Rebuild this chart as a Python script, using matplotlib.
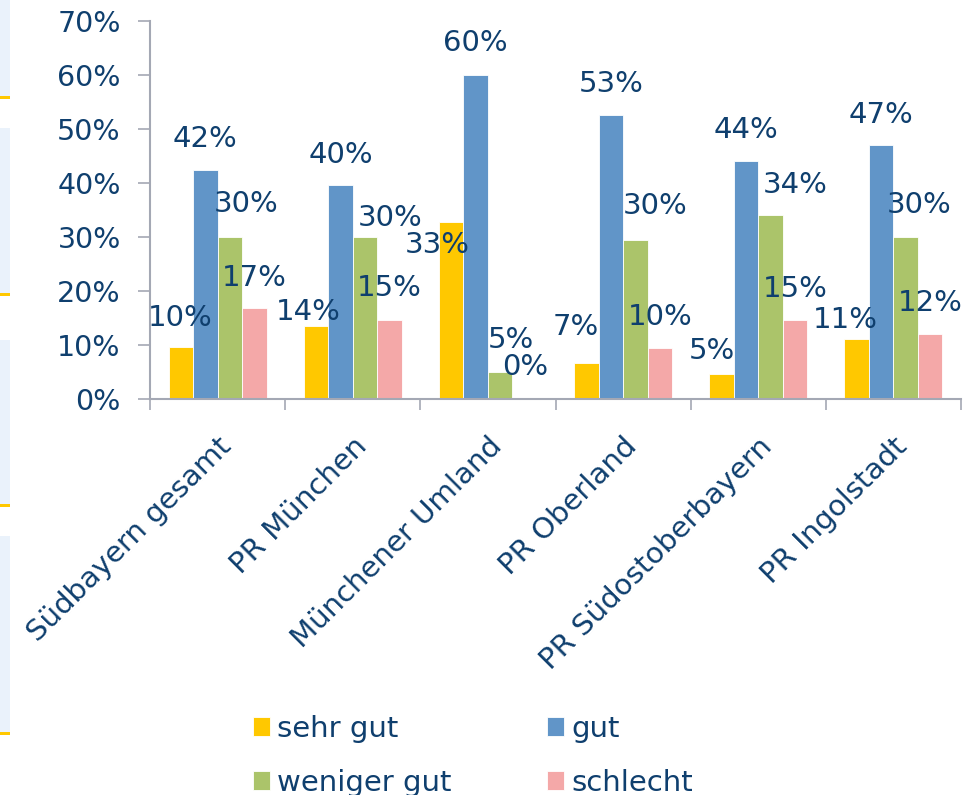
"""Zufriedenheit nach Planungsregion, gruppiertes Balkendiagramm."""

import numpy as np
import matplotlib
matplotlib.use("Agg")
from matplotlib import pyplot as plt
from matplotlib.patches import Rectangle

# data
regions = ["Südbayern gesamt", "PR München", "Münchener Umland",
           "PR Oberland", "PR Südostoberbayern", "PR Ingolstadt"]
series = ["sehr gut", "gut", "weniger gut", "schlecht"]
sehr_gut = [9.6, 13.5, 32.8, 6.6, 4.6, 11.1]
gut = [42.4, 39.6, 60.0, 52.6, 44.0, 47.0]
weniger_gut = [30.0, 30.0, 5.0, 29.5, 34.0, 30.0]
schlecht = [16.9, 14.6, 0.0, 9.5, 14.6, 12.0]
y_ticks = [0, 10, 20, 30, 40, 50, 60, 70]

colors = ["#FFC800", "#6195C8", "#ABC46A", "#F4A8A8"]
text_color = "#0F3F6E"
spine_color = "#A4A8B4"

# label offsets in pixels (dx, dy) relative to the top centre of each bar
label_offsets = [
    [(-1, 29), (0, 31), (16, 33), (0, 30)],
    [(-8, 14), (0, 30), (25, 19), (0, 32)],
    [(-14, -23), (0, 32), (11, 32), (0, 32)],
    [(-11, 36), (0, 31), (20, 34), (0, 31)],
    [(-10, 23), (0, 31), (25, 30), (0, 31)],
    [(-11, 19), (0, 30), (13, 32), (0, 31)],
]

plt.rcParams["font.family"] = ["DejaVu Sans"]

fig = plt.figure(figsize=(9.76, 7.95), dpi=100)
ax = fig.add_axes([150 / 976, 1 - 399 / 795, 811 / 976, 378 / 795])

x = np.arange(len(regions))
width = 0.1815
values = [sehr_gut, gut, weniger_gut, schlecht]
bars = []
for i, (name, vals) in enumerate(zip(series, values)):
    b = ax.bar(x + (i - 1.5) * width, vals, width, color=colors[i], label=name,
               edgecolor="white", linewidth=0.6, zorder=2)
    bars.append(b)

# percentage labels over the bars
for i, b in enumerate(bars):
    for j, rect in enumerate(b):
        dx, dy = label_offsets[j][i]
        cx = rect.get_x() + rect.get_width() / 2
        ax.annotate(f"{round(values[i][j]):.0f}%", (cx, rect.get_height()),
                    xytext=(dx, dy), textcoords="offset pixels",
                    ha="center", va="center", fontsize=21, color=text_color,
                    zorder=3, annotation_clip=False)

ax.set_xlim(-0.5, len(regions) - 0.5)
ax.set_ylim(0, 70)
ax.set_yticks(y_ticks)
ax.set_yticklabels([f"{t}%" for t in y_ticks])
ax.set_xticks(x)
ax.set_xticklabels(regions, rotation=45, ha="right", va="top",
                   rotation_mode="anchor")
ax.set_xticks(np.arange(-0.5, len(regions)), minor=True)
ax.tick_params(axis="x", which="major", length=0, pad=24,
               labelsize=21, labelcolor=text_color)
ax.tick_params(axis="x", which="minor", length=8, width=1.2,
               color=spine_color, direction="out")
ax.tick_params(axis="y", length=9, width=1.2, color=spine_color,
               pad=12, labelsize=20.5, labelcolor=text_color)
for side in ["top", "right"]:
    ax.spines[side].set_visible(False)
for side in ["left", "bottom"]:
    ax.spines[side].set_color(spine_color)
    ax.spines[side].set_linewidth(1.5)

# legend in two rows underneath
handles, labels = ax.get_legend_handles_labels()
order = [0, 2, 1, 3]
fig.legend([handles[k] for k in order], [labels[k] for k in order],
           loc="upper left", bbox_to_anchor=(238 / 976, 1 - 700 / 795),
           ncol=2, frameon=False, fontsize=21, labelcolor=text_color,
           handlelength=0.6, handleheight=0.6, handletextpad=0.25,
           columnspacing=3.26, labelspacing=0.9, borderpad=0)

# slide side panels on the left edge
for top, bottom in [(0, 96), (128, 293), (340, 504), (536, 732)]:
    fig.patches.append(Rectangle((0, 1 - bottom / 795), 10 / 976,
                                 (bottom - top) / 795, transform=fig.transFigure,
                                 facecolor="#EAF2FB", edgecolor="none"))
    fig.patches.append(Rectangle((0, 1 - (bottom + 3) / 795), 10 / 976,
                                 3 / 795, transform=fig.transFigure,
                                 facecolor="#FFC800", edgecolor="none"))

fig.savefig("out.png", dpi=100)
